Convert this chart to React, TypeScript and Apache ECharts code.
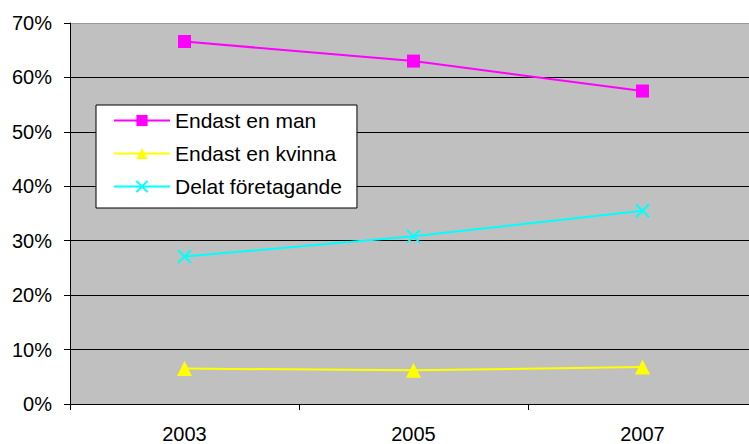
import React, { useEffect, useRef } from "react";
import * as echarts from "echarts";

const categories = ["2003", "2005", "2007"];
const seriesNames = ["Endast en man", "Endast en kvinna", "Delat f\u00f6retagande"];
const endastMan = [0.666, 0.63, 0.575];
const endastKvinna = [0.065, 0.062, 0.068];
const delat = [0.271, 0.308, 0.355];

const FONT = "'Liberation Sans', Arial, sans-serif";

export default function App() {
  const ref = useRef<HTMLDivElement>(null);
  useEffect(() => {
    if (!ref.current) return;
    const chart = echarts.init(ref.current, null, { renderer: "svg" });
    chart.setOption({
      animation: false,
      backgroundColor: "#ffffff",
      grid: {
        left: 70,
        top: 23,
        right: 7,
        bottom: 39,
        show: true,
        backgroundColor: "#c0c0c0",
        borderWidth: 0,
      },
      legend: {
        orient: "vertical",
        left: 96,
        top: 105,
        backgroundColor: "#ffffff",
        borderColor: "#000000",
        borderWidth: 1,
        borderRadius: 0,
        padding: [5, 15, 11, 17],
        itemWidth: 56,
        itemHeight: 14,
        itemGap: 12,
        textStyle: { fontFamily: FONT, fontSize: 21, color: "#000" },
        data: seriesNames,
      },
      xAxis: {
        type: "category",
        data: categories,
        boundaryGap: true,
        axisLine: { show: true, lineStyle: { color: "#000", width: 1 } },
        axisTick: { show: true, length: 6, lineStyle: { color: "#000" } },
        axisLabel: { fontFamily: FONT, fontSize: 20, color: "#000", margin: 20 },
        splitLine: { show: false },
      },
      yAxis: {
        type: "value",
        min: 0,
        max: 0.7,
        interval: 0.1,
        axisLine: { show: true, lineStyle: { color: "#000", width: 1 } },
        axisTick: { show: true, length: 6, lineStyle: { color: "#000" } },
        axisLabel: {
          fontFamily: FONT,
          fontSize: 20,
          color: "#000",
          margin: 18,
          formatter: (v: number) => Math.round(v * 100) + "%",
        },
        splitLine: {
          show: true,
          lineStyle: {
            color: ["#000", "#000", "#000", "#000", "#000", "#000", "#000", "#999"],
            width: 1,
          },
        },
      },
      series: [
        {
          name: seriesNames[0],
          type: "line",
          data: endastMan,
          symbol: "rect",
          symbolSize: 13,
          lineStyle: { color: "#ff00ff", width: 2 },
          itemStyle: { color: "#ff00ff" },
        },
        {
          name: seriesNames[1],
          type: "line",
          data: endastKvinna,
          symbol: "triangle",
          symbolSize: 15,
          lineStyle: { color: "#ffff00", width: 2 },
          itemStyle: { color: "#ffff00" },
        },
        {
          name: seriesNames[2],
          type: "line",
          data: delat,
          symbol: "path://M0,0L10,10M10,0L0,10",
          symbolSize: 13,
          lineStyle: { color: "#00ffff", width: 2 },
          itemStyle: { color: "#00ffff", borderColor: "#00ffff", borderWidth: 2 },
        },
      ],
    });
    return () => chart.dispose();
  }, []);
  return (
    <div style={{ position: "fixed", left: 0, top: 0, width: 749, height: 444, overflow: "hidden" }}>
      <div ref={ref} style={{ width: 764, height: 444 }} />
    </div>
  );
}
